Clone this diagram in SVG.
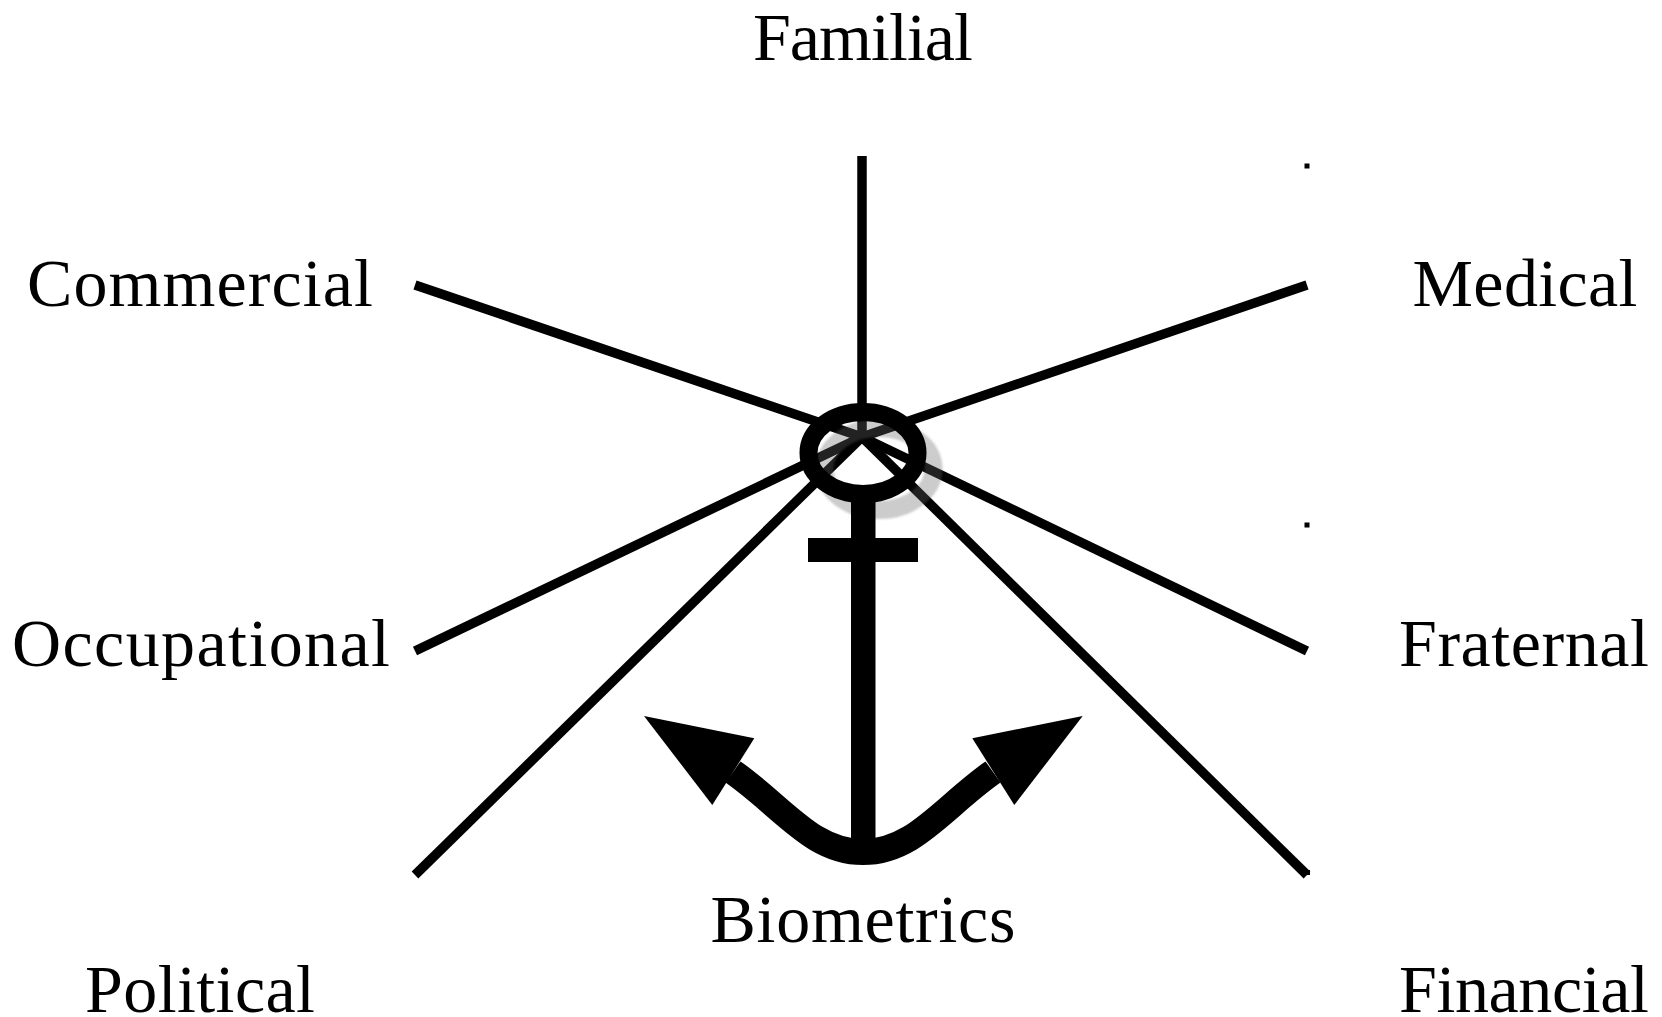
<svg xmlns="http://www.w3.org/2000/svg" width="1662" height="1017" viewBox="0 0 1662 1017">
<style>
text{font-family:"Liberation Serif","Times New Roman",serif;font-size:68px;fill:#000;text-anchor:middle}
.spoke{stroke:#000;stroke-width:9.500;fill:none}
.ring{fill:none;stroke-width:18}
</style>
<defs><filter id="blur" x="-30%" y="-30%" width="160%" height="160%"><feGaussianBlur stdDeviation="1.2"/></filter></defs>
<rect width="1662" height="1017" fill="#fff"/>
<g id="connectors">
<line class="spoke" x1="862" y1="156" x2="862" y2="437"/>
<line class="spoke" x1="415" y1="285" x2="862" y2="437"/>
<line class="spoke" x1="1307" y1="285" x2="862" y2="437"/>
<line class="spoke" x1="415" y1="651" x2="862" y2="437"/>
<line class="spoke" x1="1307" y1="651" x2="862" y2="437"/>
<line class="spoke" x1="415" y1="875" x2="862" y2="437"/>
<line class="spoke" x1="1307" y1="875" x2="862" y2="437"/>
</g>
<g id="anchor">
<ellipse class="ring" cx="879" cy="469" rx="54.5" ry="41" stroke="#666" stroke-opacity=".333" filter="url(#blur)"/>
<ellipse class="ring" cx="863" cy="453" rx="54.5" ry="41" stroke="#000"/>
<rect x="851" y="490" width="24.500" height="362"/>
<rect x="808" y="538" width="110" height="24"/>
<path d="M733 772C784 808 812 852 863 852C914 852 942 808 993 772" fill="none" stroke="#000" stroke-width="26"/>
<polygon points="644,716 754.300,738.300 712.300,805"/>
<polygon points="1082.700,716 972.300,738.300 1014.300,805"/>
</g>
<rect id="dot1" x="1304.500" y="163.500" width="5" height="5"/>
<rect id="dot2" x="1304.500" y="522.500" width="5" height="5"/>
<rect id="dot3" x="1305" y="870" width="5" height="5"/>
<g id="familial"><text x="863" y="60" textLength="220" lengthAdjust="spacing">Familial</text></g>
<g id="commercial"><text x="200" y="306" textLength="346" lengthAdjust="spacing">Commercial</text></g>
<g id="medical"><text x="1525" y="306" textLength="225" lengthAdjust="spacing">Medical</text></g>
<g id="occupational"><text x="201" y="666" textLength="378" lengthAdjust="spacing">Occupational</text></g>
<g id="fraternal"><text x="1524" y="666" textLength="250" lengthAdjust="spacing">Fraternal</text></g>
<g id="political"><text x="200" y="1012" textLength="230" lengthAdjust="spacing">Political</text></g>
<g id="financial"><text x="1524" y="1012" textLength="250" lengthAdjust="spacing">Financial</text></g>
<g id="biometrics"><text x="863" y="942" textLength="305" lengthAdjust="spacing">Biometrics</text></g>
</svg>
